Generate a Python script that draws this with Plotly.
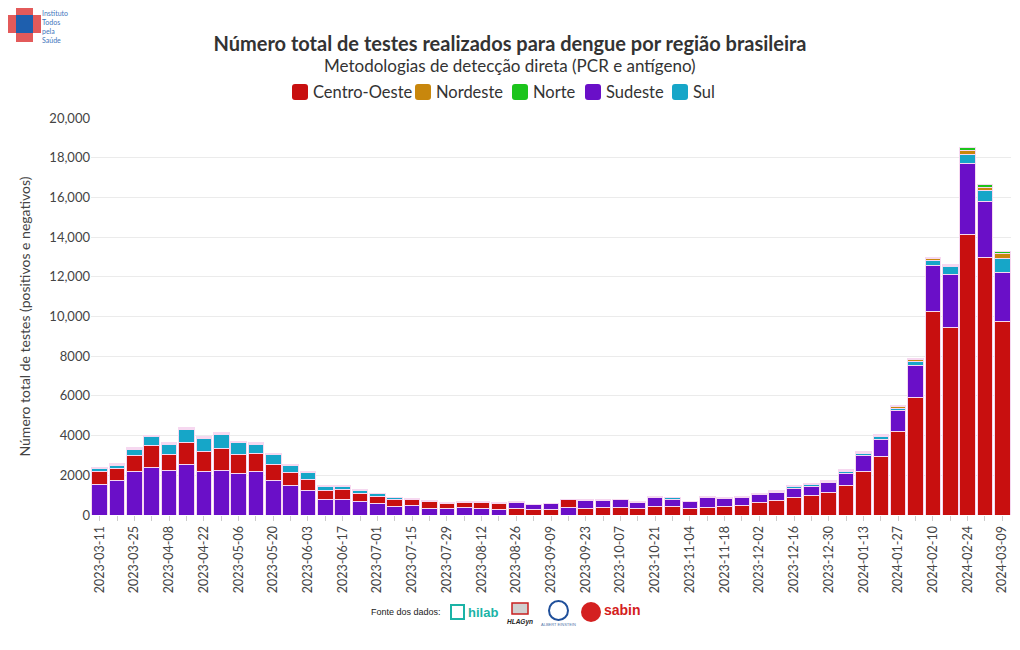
import plotly.graph_objects as go

weeks = [
    "2023-03-11", "2023-03-18", "2023-03-25", "2023-04-01", "2023-04-08", "2023-04-15",
    "2023-04-22", "2023-04-29", "2023-05-06", "2023-05-13", "2023-05-20", "2023-05-27",
    "2023-06-03", "2023-06-10", "2023-06-17", "2023-06-24", "2023-07-01", "2023-07-08",
    "2023-07-15", "2023-07-22", "2023-07-29", "2023-08-05", "2023-08-12", "2023-08-19",
    "2023-08-26", "2023-09-02", "2023-09-09", "2023-09-16", "2023-09-23", "2023-09-30",
    "2023-10-07", "2023-10-14", "2023-10-21", "2023-10-28", "2023-11-04", "2023-11-11",
    "2023-11-18", "2023-11-25", "2023-12-02", "2023-12-09", "2023-12-16", "2023-12-23",
    "2023-12-30", "2024-01-06", "2024-01-13", "2024-01-20", "2024-01-27", "2024-02-03",
    "2024-02-10", "2024-02-17", "2024-02-24", "2024-03-02", "2024-03-09",
]

centro_oeste = [
    630, 590, 820, 1090, 820, 1090, 990, 1110, 950, 920,
    790, 670, 550, 450, 490, 415, 345, 325, 310, 330,
    235, 268, 285, 300, 320, 285, 285, 386, 336, 353,
    353, 319, 453, 420, 319, 403, 437, 487, 638, 739,
    907, 991, 1142, 1485, 2200, 2972, 4215, 5928, 10260, 9471,
    14139, 12981, 9773,
]
sudeste = [
    1550, 1750, 2170, 2400, 2250, 2550, 2200, 2250, 2100, 2180,
    1730, 1490, 1230, 790, 790, 660, 580, 440, 480, 345,
    336, 353, 336, 285, 320, 220, 285, 370, 386, 369,
    403, 319, 404, 386, 353, 470, 386, 386, 403, 403,
    453, 470, 487, 610, 789, 840, 1041, 1612, 2300, 2670,
    3577, 2821, 2452,
]
sul = [
    170, 170, 320, 450, 500, 690, 650, 700, 600, 470,
    540, 320, 340, 200, 150, 150, 135, 100, 30, 25,
    25, 25, 25, 25, 40, 15, 15, 15, 50, 50,
    33, 34, 83, 67, 20, 50, 33, 50, 50, 50,
    67, 84, 60, 110, 118, 134, 134, 202, 285, 353,
    470, 571, 688,
]
nordeste = [
    30, 50, 50, 40, 40, 50, 50, 50, 40, 50,
    30, 50, 30, 40, 40, 30, 20, 20, 10, 10,
    10, 10, 10, 10, 5, 5, 5, 10, 5, 5,
    5, 5, 10, 10, 5, 10, 10, 10, 10, 15,
    20, 20, 25, 35, 50, 60, 60, 70, 80, 80,
    168, 151, 236,
]
norte = [
    20, 30, 35, 45, 30, 50, 50, 35, 30, 35,
    20, 35, 20, 25, 25, 20, 15, 10, 10, 10,
    5, 5, 5, 5, 5, 5, 5, 5, 5, 5,
    5, 5, 5, 5, 5, 5, 5, 5, 5, 10,
    15, 15, 20, 30, 50, 58, 58, 64, 70, 54,
    152, 101, 101,
]
# region drawn at the bottom of each week's stack
stack_first = ["SE"] * 24 + ["CO"] * 3 + ["SE"] + ["CO"] * 25

tick_labels = weeks[::2]
y_ticks = [0, 2000, 4000, 6000, 8000, 10000, 12000, 14000, 16000, 18000, 20000]

legend_names = ["Centro-Oeste", "Nordeste", "Norte", "Sudeste", "Sul"]
logo_lines = ["Instituto", "Todos", "pela", "Saúde"]

COLORS = {
    "Centro-Oeste": "#c80f0f",
    "Nordeste": "#c8870d",
    "Norte": "#1cc41c",
    "Sudeste": "#6a0fc8",
    "Sul": "#16a6c8",
}
LINE = dict(color="#f6d8f0", width=1)


def pick(vals, key, want):
    return [v if k == want else None for v, k in zip(vals, key)]


fig = go.Figure()


def add(name, y):
    fig.add_trace(go.Bar(
        x=weeks, y=y, name=name, legendgroup=name, showlegend=False,
        marker=dict(color=COLORS[name], line=LINE),
        hovertemplate="%{x}<br>" + name + ": %{y}<extra></extra>",
    ))


add("Sudeste", pick(sudeste, stack_first, "SE"))
add("Centro-Oeste", pick(centro_oeste, stack_first, "CO"))
add("Centro-Oeste", pick(centro_oeste, stack_first, "SE"))
add("Sudeste", pick(sudeste, stack_first, "CO"))
add("Sul", sul)
add("Nordeste", nordeste)
add("Norte", norte)

FONT = "Lato, 'Open Sans', sans-serif"
OFF = 8  # page body margin
FIG_W, FIG_H = 1020 - 2 * OFF, 650 - 2 * OFF
# plot area in page pixels
PT, PB, PL, PR = 118, 515, 91, 1011
H = PB - PT
W = PR - PL


def py(ypx):
    return (PB - ypx) / H


def px(xpx):
    return (xpx - PL) / W


def rrect(x0, y0, x1, y1, r=3):
    X = lambda v: px(v)
    Y = lambda v: py(v)
    return (f"M{X(x0 + r)},{Y(y0)} L{X(x1 - r)},{Y(y0)} Q{X(x1)},{Y(y0)} {X(x1)},{Y(y0 + r)} "
            f"L{X(x1)},{Y(y1 - r)} Q{X(x1)},{Y(y1)} {X(x1 - r)},{Y(y1)} "
            f"L{X(x0 + r)},{Y(y1)} Q{X(x0)},{Y(y1)} {X(x0)},{Y(y1 - r)} "
            f"L{X(x0)},{Y(y0 + r)} Q{X(x0)},{Y(y0)} {X(x0 + r)},{Y(y0)} Z")


annotations = [
    dict(text="Metodologias de detecção direta (PCR e antígeno)", x=px(510), y=py(65),
         xref="paper", yref="paper", showarrow=False, xanchor="center", yanchor="middle",
         font=dict(size=17, color="#333333", family=FONT)),
    dict(text="<br>".join(logo_lines), x=px(41), y=py(27), xref="paper", yref="paper",
         showarrow=False, xanchor="left", yanchor="middle", align="left", borderpad=0,
         font=dict(size=7, color="#3f76bd", family=FONT)),
    dict(text="Fonte dos dados:", x=px(443), y=py(612), xref="paper", yref="paper",
         showarrow=False, xanchor="right", yanchor="middle",
         font=dict(size=9, color="#222222", family="Liberation Sans, Arial")),
    dict(text="<b>hilab</b>", x=px(466), y=py(612), xref="paper", yref="paper",
         showarrow=False, xanchor="left", yanchor="middle",
         font=dict(size=13, color="#1bb3a6", family="Liberation Sans, Arial")),
    dict(text="<b><i>HLAGyn</i></b>", x=px(520), y=py(622), xref="paper", yref="paper",
         showarrow=False, xanchor="center", yanchor="middle",
         font=dict(size=6.5, color="#222222", family="Liberation Sans, Arial")),
    dict(text="ALBERT EINSTEIN", x=px(558), y=py(624), xref="paper", yref="paper",
         showarrow=False, xanchor="center", yanchor="middle",
         font=dict(size=4, color="#5577aa", family="Liberation Sans, Arial")),
    dict(text="<b>sabin</b>", x=px(602), y=py(610), xref="paper", yref="paper",
         showarrow=False, xanchor="left", yanchor="middle",
         font=dict(size=14, color="#d42020", family="Liberation Sans, Arial")),
]

shapes = [
    # logo: cross
    dict(type="rect", xref="paper", yref="paper", x0=px(16), x1=px(33), y0=py(42), y1=py(8),
         fillcolor="#e35a5a", line=dict(width=0), layer="above"),
    dict(type="rect", xref="paper", yref="paper", x0=px(8), x1=px(41), y0=py(33), y1=py(15),
         fillcolor="#e35a5a", line=dict(width=0), layer="above"),
    dict(type="rect", xref="paper", yref="paper", x0=px(16), x1=px(33), y0=py(33), y1=py(15),
         fillcolor="#1e5fae", line=dict(width=0), layer="above"),
    # footer logo glyphs
    dict(type="rect", xref="paper", yref="paper", x0=px(451), x1=px(464), y0=py(619), y1=py(605),
         fillcolor="rgba(0,0,0,0)", line=dict(color="#1bb3a6", width=2), layer="above"),
    dict(type="rect", xref="paper", yref="paper", x0=px(512), x1=px(528), y0=py(614), y1=py(603),
         fillcolor="#d0d0d0", line=dict(color="#c82020", width=1.5), layer="above"),
    dict(type="circle", xref="paper", yref="paper", x0=px(549), x1=px(568), y0=py(620), y1=py(601),
         fillcolor="rgba(0,0,0,0)", line=dict(color="#1f4f9a", width=2), layer="above"),
    dict(type="circle", xref="paper", yref="paper", x0=px(581), x1=px(601), y0=py(622), y1=py(602),
         fillcolor="#d42020", line=dict(width=0), layer="above"),
]

# legend (drawn as swatches + labels to match the compact reference layout)
legend_x = [292, 415, 512, 585, 672]
for name, lx in zip(legend_names, legend_x):
    shapes.append(dict(type="path", xref="paper", yref="paper", path=rrect(lx, 84, lx + 16, 100),
                       fillcolor=COLORS[name], line=dict(width=0), layer="above"))
    annotations.append(dict(text=name, x=px(lx + 19), y=py(92), xref="paper", yref="paper",
                            showarrow=False, xanchor="left", yanchor="middle",
                            font=dict(size=16.5, color="#333333", family=FONT)))

fig.update_layout(
    width=FIG_W, height=FIG_H,
    barmode="stack", bargap=0.1, showlegend=False,
    paper_bgcolor="white", plot_bgcolor="white",
    margin=dict(l=PL - OFF, r=OFF + FIG_W - PR, t=PT - OFF, b=OFF + FIG_H - PB, autoexpand=False),
    font=dict(family=FONT, size=13, color="#444444"),
    title=dict(text="<b>Número total de testes realizados para dengue por região brasileira</b>",
               x=0.5, xanchor="center", y=1 - (44 - OFF) / FIG_H, yanchor="middle", yref="container",
               font=dict(size=20, color="#333333", family=FONT)),
    xaxis=dict(
        type="date", tickmode="array", tickvals=tick_labels, ticktext=tick_labels,
        tickangle=-90, ticks="outside", ticklen=5, tickcolor="#cccccc",
        tickfont=dict(size=12.5, color="#444444"),
        minor=dict(ticks="outside", ticklen=5, tickcolor="#cccccc", dtick=7 * 86400000,
                   tick0=weeks[0], showgrid=False),
        range=["2023-03-07 12:00", "2024-03-12 12:00"],
        showgrid=False, showline=False, zeroline=False,
    ),
    yaxis=dict(
        range=[0, 20000], tickmode="array", tickvals=y_ticks, exponentformat="none",
        gridcolor="#ebebeb", zeroline=False,
        title=dict(text="Número total de testes (positivos e negativos)",
                   font=dict(size=14, color="#444444")),
        tickfont=dict(size=13, color="#444444"),
    ),
    annotations=annotations,
    shapes=shapes,
)

fig.write_html("out.html")
